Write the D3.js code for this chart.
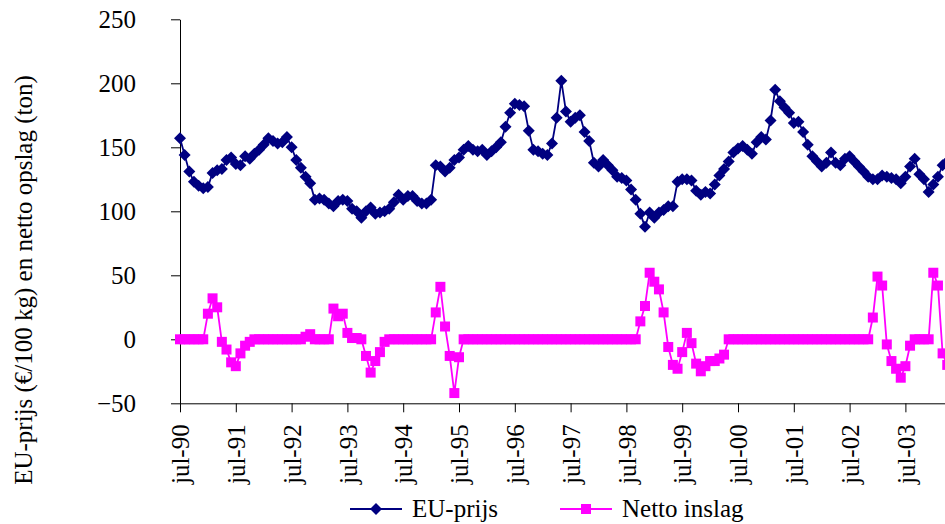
<!DOCTYPE html>
<html>
<head>
<meta charset="utf-8">
<script src="https://cdn.jsdelivr.net/npm/d3@7"></script>
<style>
  body { margin: 0; background: #fff; }
  svg, svg text { font-family: "Liberation Serif", "Times New Roman", Times, "DejaVu Serif", serif; }
</style>
</head>
<body>
<div id="chart"></div>
<script>
// EU price and net intervention stock, monthly from jul-90

const FONT = "'Liberation Serif', 'Times New Roman', Times, 'DejaVu Serif', serif";
const FONT_SIZE = 25;

// x tick labels, one per 12 months
const tickLabels = ["jul-90", "jul-91", "jul-92", "jul-93", "jul-94", "jul-95", "jul-96",
  "jul-97", "jul-98", "jul-99", "jul-00", "jul-01", "jul-02", "jul-03"];

// EU-prijs (euro/100 kg), one value per month
const euPrijs = [
  157, 144, 131, 123, 120, 118, 119, 130, 132, 133, 140, 142,
  137, 136, 143, 141, 145, 148, 152, 157, 155, 153, 154, 158,
  150, 140, 134, 127, 122, 109, 110, 109, 106, 104, 108, 109,
  108, 102, 100, 95, 100, 103, 98, 99, 100, 102, 107, 113,
  109, 112, 112, 108, 106, 106, 109, 136, 135, 131, 134, 140,
  142, 148, 151, 148, 147, 148, 144, 147, 150, 154, 166, 177,
  184, 183, 182, 163, 148, 147, 145, 144, 153, 173, 202, 178,
  170, 173, 175, 162, 155, 138, 135, 140, 136, 132, 127, 126,
  124, 117, 109, 98, 88, 99, 95, 99, 101, 104, 104, 123,
  125, 125, 124, 116, 113, 115, 114, 121, 128, 133, 139, 146,
  149, 151, 148, 145, 154, 158, 156, 171, 195, 186, 181, 177,
  169, 170, 162, 152, 143, 139, 135, 138, 146, 138, 136, 141,
  143, 139, 135, 131, 127, 125, 125, 128, 127, 126, 125, 122,
  127, 135, 141, 129, 125, 115, 121, 127, 136, 139
];

// Netto inslag (ton), one value per month
const nettoInslag = [
  0, 0, 0, 0, 0, 0, 20, 32, 25, -2, -8, -18,
  -21, -11, -5, -2, 0, 0, 0, 0, 0, 0, 0, 0,
  0, 0, 0, 2, 4, 0, 0, 0, 0, 24, 18, 20,
  5, 1, 1, 0, -13, -26, -17, -10, -2, 0, 0, 0,
  0, 0, 0, 0, 0, 0, 0, 21, 41, 10, -13, -42,
  -14, 0, 0, 0, 0, 0, 0, 0, 0, 0, 0, 0,
  0, 0, 0, 0, 0, 0, 0, 0, 0, 0, 0, 0,
  0, 0, 0, 0, 0, 0, 0, 0, 0, 0, 0, 0,
  0, 0, 0, 14, 26, 52, 45, 39, 21, -6, -20, -23,
  -10, 5, -3, -19, -25, -21, -17, -17, -15, -12, 0, 0,
  0, 0, 0, 0, 0, 0, 0, 0, 0, 0, 0, 0,
  0, 0, 0, 0, 0, 0, 0, 0, 0, 0, 0, 0,
  0, 0, 0, 0, 0, 17, 49, 42, -4, -17, -23, -30,
  -21, -5, 0, 0, 0, 0, 52, 42, -11, -20
];

const yTicks = [-50, 0, 50, 100, 150, 200, 250];

const seriesNames = ["EU-prijs", "Netto inslag"];
const seriesColors = ["#000080", "#FF00FF"];

const W = 945, H = 524;
const plotLeft = 180, plotTop = 19.3, plotBottom = 403.3;
const monthWidth = 4.65; // px per month, plot runs past the right edge

const svg = d3.select("#chart").append("svg")
  .attr("width", W)
  .attr("height", H)
  .attr("font-family", FONT);

const x = d3.scaleLinear()
  .domain([0, 1])
  .range([plotLeft, plotLeft + monthWidth]);

const y = d3.scaleLinear()
  .domain([-50, 250])
  .range([plotBottom, plotTop]);

// y axis
const yAxis = svg.append("g")
  .attr("transform", `translate(${plotLeft},0)`)
  .call(d3.axisLeft(y).tickValues(yTicks).tickSize(9).tickPadding(35).tickSizeOuter(0));
yAxis.attr("font-family", FONT).attr("font-size", FONT_SIZE);
yAxis.select(".domain").attr("stroke", "#000").attr("stroke-width", 1);
yAxis.selectAll(".tick line").attr("stroke", "#000");
yAxis.selectAll("text").attr("fill", "#000");

// x axis at the bottom (-50)
const xAxis = svg.append("g")
  .attr("transform", `translate(0,${plotBottom})`)
  .call(d3.axisBottom(x)
    .tickValues(tickLabels.map((d, i) => i * 12))
    .tickFormat((d, i) => tickLabels[i])
    .tickSize(9)
    .tickSizeOuter(0));
xAxis.attr("font-family", FONT).attr("font-size", FONT_SIZE);
xAxis.select(".domain").attr("d", `M${plotLeft},0.5H${W + 10}`).attr("stroke", "#000");
xAxis.selectAll(".tick line").attr("stroke", "#000");
xAxis.selectAll("text")
  .attr("fill", "#000")
  .attr("text-anchor", "end")
  .attr("transform", "translate(0,21) rotate(-90)")
  .attr("x", 0)
  .attr("y", 0)
  .attr("dy", "0.35em");

// y axis title
svg.append("text")
  .attr("transform", `translate(32,${(75 + 485) / 2}) rotate(-90)`)
  .attr("text-anchor", "middle")
  .attr("font-size", FONT_SIZE)
  .text("EU-prijs (€/100 kg) en netto opslag (ton)");

// lines
const line = d3.line()
  .x((d, i) => x(i))
  .y(d => y(d));

const diamond = "M0,-6L6,0L0,6L-6,0Z";

svg.append("path")
  .datum(euPrijs)
  .attr("fill", "none")
  .attr("stroke", seriesColors[0])
  .attr("stroke-width", 1.8)
  .attr("d", line);

svg.append("path")
  .datum(nettoInslag)
  .attr("fill", "none")
  .attr("stroke", seriesColors[1])
  .attr("stroke-width", 1.8)
  .attr("d", line);

svg.append("g")
  .selectAll("path")
  .data(euPrijs)
  .join("path")
  .attr("d", diamond)
  .attr("transform", (d, i) => `translate(${x(i)},${y(d)})`)
  .attr("fill", seriesColors[0]);

svg.append("g")
  .selectAll("rect")
  .data(nettoInslag)
  .join("rect")
  .attr("x", (d, i) => x(i) - 5)
  .attr("y", d => y(d) - 5)
  .attr("width", 10)
  .attr("height", 10)
  .attr("fill", seriesColors[1]);

// legend
const legendY = 509;
const legendItems = [
  { x0: 350, x1: 402, tx: 412 },
  { x0: 560, x1: 612, tx: 622 }
];
legendItems.forEach((it, k) => {
  svg.append("line")
    .attr("x1", it.x0).attr("x2", it.x1)
    .attr("y1", legendY).attr("y2", legendY)
    .attr("stroke", seriesColors[k])
    .attr("stroke-width", 1.8);
  const cx = (it.x0 + it.x1) / 2;
  if (k === 0) {
    svg.append("path")
      .attr("d", diamond)
      .attr("transform", `translate(${cx},${legendY})`)
      .attr("fill", seriesColors[k]);
  } else {
    svg.append("rect")
      .attr("x", cx - 5).attr("y", legendY - 5)
      .attr("width", 10).attr("height", 10)
      .attr("fill", seriesColors[k]);
  }
  svg.append("text")
    .attr("x", it.tx)
    .attr("y", legendY)
    .attr("dy", "0.32em")
    .attr("font-size", FONT_SIZE)
    .text(seriesNames[k]);
});
</script>
</body>
</html>
